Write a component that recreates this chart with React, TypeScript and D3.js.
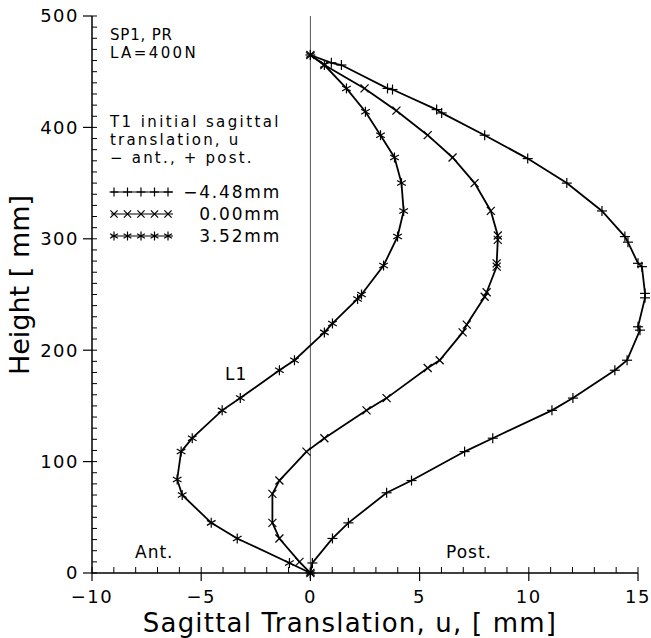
import React from 'react';
import * as d3 from 'd3';

// ---- data ----
const xTicks = [-10, -5, 0, 5, 10, 15];
const yTicks = [0, 100, 200, 300, 400, 500];

// T1 initial translation -4.48 mm ("+" markers)
const uNeg = [0, 0.96, 1.42, 3.53, 3.76, 5.78, 6.01, 7.98, 9.95, 11.74, 13.35, 14.4, 14.54, 15.0, 15.18, 15.32, 15.32, 15.0, 15.09, 14.5, 13.94, 12.02, 11.06, 8.35, 7.06, 4.63, 3.49, 1.74, 1.01, 0.09, 0];
const hNeg = [465, 458, 456, 435, 434, 416, 413, 393, 372, 350, 325, 302, 297, 278, 275, 251, 247, 221, 218, 191, 182, 157, 146, 121, 109, 83, 72, 45, 31, 9, 0];

// T1 initial translation 0.00 mm ("x" markers)
const uZero = [0, 0.64, 2.48, 3.94, 5.37, 6.51, 7.52, 8.26, 8.58, 8.58, 8.53, 8.53, 8.07, 7.98, 7.16, 6.97, 5.92, 5.37, 3.49, 2.57, 0.64, -0.18, -1.42, -1.74, -1.74, -1.42, -0.5, 0];
const hZero = [465, 456, 435, 415, 393, 373, 350, 325, 303, 299, 278, 275, 252, 248, 223, 216, 191, 184, 157, 146, 121, 109, 83, 71, 45, 31, 10, 0];

// T1 initial translation 3.52 mm ("*" markers)
const uPos = [0, 0.64, 1.65, 2.52, 3.21, 3.85, 4.17, 4.27, 3.99, 3.35, 2.34, 2.16, 1.01, 0.64, -0.73, -1.42, -3.21, -4.04, -5.41, -5.92, -6.1, -5.87, -4.54, -3.35, -0.96, 0];
const hPos = [465, 456, 435, 414, 393, 373, 350, 325, 302, 276, 250, 246, 224, 216, 191, 182, 157, 146, 121, 109, 84, 70, 45, 31, 9, 0];

const legendLabels = ['\u22124.48mm', '0.00mm', '3.52mm'];
const legendHeader = ['T1 initial sagittal', 'translation, u', '\u2212 ant., + post.'];
const titleLines = ['SP1, PR', 'LA=400N'];

type Kind = 'plus' | 'cross' | 'star';

const FONT = '"DejaVu Sans", sans-serif';

function Marker({ x, y, kind, r = 5 }: { x: number; y: number; kind: Kind; r?: number }) {
  const lines: [number, number, number, number][] = [];
  if (kind === 'plus') {
    lines.push([x - r, y, x + r, y], [x, y - r, x, y + r]);
  } else if (kind === 'cross') {
    const d = r * 0.8;
    lines.push([x - d, y - d, x + d, y + d], [x - d, y + d, x + d, y - d]);
  } else {
    const a = r * Math.cos(Math.PI / 6);
    const b = r * Math.sin(Math.PI / 6);
    lines.push([x, y - r, x, y + r], [x - a, y - b, x + a, y + b], [x - a, y + b, x + a, y - b]);
  }
  return (
    <g stroke="#000" strokeWidth={1.2}>
      {lines.map((l, i) => (
        <line key={i} x1={l[0]} y1={l[1]} x2={l[2]} y2={l[3]} />
      ))}
    </g>
  );
}

export default function App() {
  const W = 651;
  const H = 638;
  const x = d3.scaleLinear().domain([-10, 15]).range([92, 638]);
  const y = d3.scaleLinear().domain([0, 500]).range([573, 16]);

  const series: { u: number[]; h: number[]; kind: Kind }[] = [
    { u: uNeg, h: hNeg, kind: 'plus' },
    { u: uZero, h: hZero, kind: 'cross' },
    { u: uPos, h: hPos, kind: 'star' },
  ];

  const line = d3
    .line<[number, number]>()
    .x((d) => x(d[0]))
    .y((d) => y(d[1]));

  const xMinor = d3.range(-10, 16, 1);
  const yMinor = d3.range(0, 501, 10);

  const legendKinds: Kind[] = ['plus', 'cross', 'star'];
  const legendY = [192, 214, 236];
  const titleSpacing = [0.8, 2.4];
  const headerSpacing = [2.4, 2.2, 2.2];

  return (
    <svg
      width={W}
      height={H}
      style={{ position: 'absolute', left: 0, top: 0, background: '#fff' }}
      fontFamily={FONT}
    >
      <rect x={0} y={0} width={W} height={H} fill="#fff" />

      {/* zero reference line */}
      <line x1={x(0)} x2={x(0)} y1={y(0)} y2={y(500)} stroke="#555" strokeWidth={1} />

      {/* axes */}
      <line x1={x(-10)} x2={x(-10)} y1={y(0)} y2={y(500)} stroke="#000" strokeWidth={1.5} />
      <line x1={x(-10)} x2={x(15)} y1={y(0)} y2={y(0)} stroke="#000" strokeWidth={1.5} />

      {yMinor.map((v) => (
        <line key={'ym' + v} x1={x(-10)} x2={x(-10) + 5} y1={y(v)} y2={y(v)} stroke="#000" strokeWidth={1} />
      ))}
      {yTicks.map((v) => (
        <g key={'yt' + v}>
          <line x1={x(-10) - 9} x2={x(-10)} y1={y(v)} y2={y(v)} stroke="#000" strokeWidth={1.2} />
          <text
            x={x(-10) - 13}
            y={y(v)}
            dy="0.36em"
            textAnchor="end"
            fontSize={18}
            letterSpacing={1.5}
          >
            {v}
          </text>
        </g>
      ))}

      {xMinor.map((v) => (
        <line key={'xm' + v} x1={x(v)} x2={x(v)} y1={y(0)} y2={y(0) - 6} stroke="#000" strokeWidth={1} />
      ))}
      {xTicks.map((v) => (
        <g key={'xt' + v}>
          <line x1={x(v)} x2={x(v)} y1={y(0)} y2={y(0) + 8} stroke="#000" strokeWidth={1.2} />
          <text x={x(v)} y={603} textAnchor="middle" fontSize={18} letterSpacing={1.5}>
            {v < 0 ? '\u2212' + Math.abs(v) : String(v)}
          </text>
        </g>
      ))}

      {/* axis titles */}
      <text
        x={350}
        y={632}
        textAnchor="middle"
        fontSize={26}
        letterSpacing={1.2}
      >
        Sagittal Translation, u, [ mm]
      </text>
      <text
        transform={`translate(29,285) rotate(-90)`}
        textAnchor="middle"
        fontSize={27}
      >
        Height [ mm]
      </text>

      {/* curves */}
      {series.map((s, i) => {
        const pts: [number, number][] = s.u.map((u, j) => [u, s.h[j]]);
        return (
          <g key={'s' + i}>
            <path d={line(pts) || ''} fill="none" stroke="#000" strokeWidth={1.8} />
            {pts.map((p, j) => (
              <Marker key={j} x={x(p[0])} y={y(p[1])} kind={s.kind} r={5} />
            ))}
          </g>
        );
      })}

      {/* annotations */}
      {titleLines.map((t, i) => (
        <text key={'tl' + i} x={110} y={40 + i * 18} fontSize={15} letterSpacing={titleSpacing[i]}>
          {t}
        </text>
      ))}
      {legendHeader.map((t, i) => (
        <text key={'lh' + i} x={110} y={127 + i * 17.8} fontSize={15} letterSpacing={headerSpacing[i]}>
          {t}
        </text>
      ))}
      {legendKinds.map((k, i) => (
        <g key={'lg' + i}>
          <line x1={111} x2={173} y1={legendY[i]} y2={legendY[i]} stroke="#000" strokeWidth={1.2} />
          {d3.range(5).map((j) => (
            <Marker key={j} x={114 + j * 13.5} y={legendY[i]} kind={k} r={4.5} />
          ))}
          <text x={281} y={legendY[i]} dy="0.36em" textAnchor="end" fontSize={17} letterSpacing={1.8}>
            {legendLabels[i]}
          </text>
        </g>
      ))}

      <text x={225} y={380} fontSize={17} letterSpacing={1}>
        L1
      </text>
      <text x={135} y={558} fontSize={17} letterSpacing={1}>
        Ant.
      </text>
      <text x={446} y={558} fontSize={17} letterSpacing={1}>
        Post.
      </text>
    </svg>
  );
}
